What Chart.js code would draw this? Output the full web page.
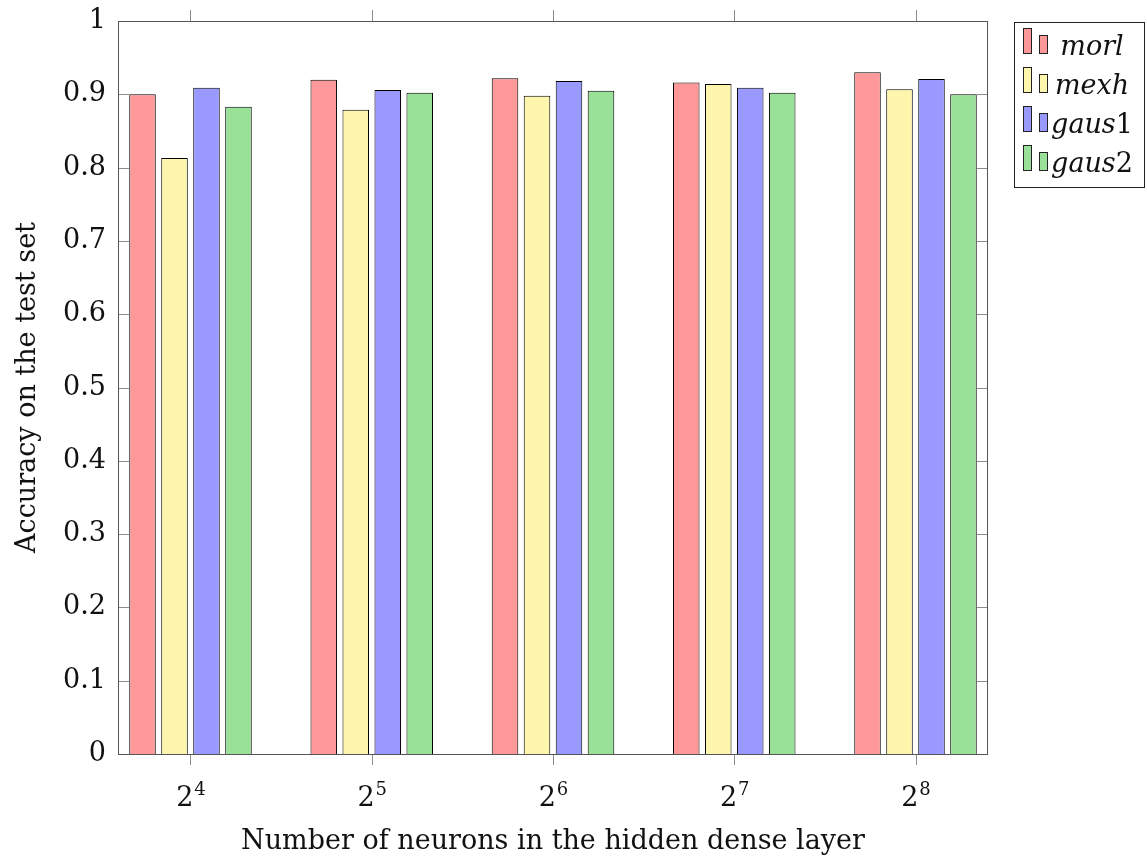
<!DOCTYPE html>
<html>
<head>
<meta charset="utf-8">
<script src="https://cdn.jsdelivr.net/npm/chart.js@4.4.0/dist/chart.umd.min.js"></script>
<style>
  html, body { margin: 0; padding: 0; background: #fff; }
</style>
</head>
<body>
<canvas id="c" width="1147" height="863"></canvas>
<script>
// Hidden-layer sizes are powers of two; the x axis carries the exponent.
const exponents = [4, 5, 6, 7, 8];

// Test-set accuracy per wavelet
const morl  = [0.900, 0.920, 0.922, 0.916, 0.930];
const mexh  = [0.813, 0.879, 0.898, 0.914, 0.907];
const gaus1 = [0.909, 0.906, 0.918, 0.909, 0.921];
const gaus2 = [0.883, 0.902, 0.905, 0.902, 0.900];

const yTicks = [0, 0.1, 0.2, 0.3, 0.4, 0.5, 0.6, 0.7, 0.8, 0.9, 1];

// Legend names: italic part + upright suffix
const seriesNames = [['morl', ''], ['mexh', ''], ['gaus', '1'], ['gaus', '2']];
const seriesFill = ['#ff9999', '#fff6ad', '#9999ff', '#99e099'];
const seriesValues = [morl, mexh, gaus1, gaus2];

const FONT = '"DejaVu Serif", "Liberation Serif", serif';
const FS = 27;

const datasets = seriesValues.map((vals, k) => ({
  label: seriesNames[k].join(''),
  data: exponents.map((e, i) => ({ x: e, y: vals[i] })),
  backgroundColor: seriesFill[k],
  borderColor: '#000',
  borderWidth: 1,
  borderSkipped: 'start',
  categoryPercentage: 0.706,
  barPercentage: 0.83
}));

// Axis frame with tick marks: y ticks point inward on both sides,
// x ticks point outward at top and bottom. Also the x tick labels as 2^k.
const framePlugin = {
  id: 'frame',
  afterDatasetsDraw(chart) {
    const { ctx, chartArea: a, scales: { x, y } } = chart;
    ctx.save();
    ctx.lineWidth = 1;
    ctx.strokeStyle = '#8c8c8c';
    ctx.beginPath();
    yTicks.forEach(v => {
      const py = Math.round(y.getPixelForValue(v)) + 0.5;
      ctx.moveTo(a.left, py); ctx.lineTo(a.left + 11, py);
      ctx.moveTo(a.right, py); ctx.lineTo(a.right - 11, py);
    });
    exponents.forEach(e => {
      const px = Math.round(x.getPixelForValue(e)) + 0.5;
      ctx.moveTo(px, a.top); ctx.lineTo(px, a.top - 11);
      ctx.moveTo(px, a.bottom); ctx.lineTo(px, a.bottom + 11);
    });
    ctx.stroke();

    ctx.strokeStyle = '#555';
    ctx.strokeRect(Math.round(a.left) + 0.5, Math.round(a.top) + 0.5,
                   Math.round(a.right - a.left) - 1, Math.round(a.bottom - a.top));

    // x tick labels: base 2 with raised exponent
    ctx.fillStyle = '#111';
    ctx.textBaseline = 'alphabetic';
    exponents.forEach(e => {
      const px = x.getPixelForValue(e);
      ctx.font = `${FS}px ${FONT}`;
      const wb = ctx.measureText('2').width;
      ctx.font = `18px ${FONT}`;
      const we = ctx.measureText(String(e)).width;
      const start = px - (wb + we) / 2;
      ctx.font = `${FS}px ${FONT}`;
      ctx.textAlign = 'left';
      ctx.fillText('2', start, a.bottom + 52);
      ctx.font = `18px ${FONT}`;
      ctx.fillText(String(e), start + wb + 1, a.bottom + 41);
    });
    ctx.restore();
  }
};

// Boxed legend to the right of the plot, two small bars per entry
const legendPlugin = {
  id: 'barLegend',
  afterDraw(chart) {
    const { ctx, chartArea: a } = chart;
    const bx = a.right + 26, by = a.top + 1, bw = 130, bh = 165;
    ctx.save();
    ctx.fillStyle = '#fff';
    ctx.fillRect(bx, by, bw, bh);
    ctx.strokeStyle = '#222';
    ctx.lineWidth = 1;
    ctx.strokeRect(bx + 0.5, by + 0.5, bw, bh);
    seriesNames.forEach((nm, k) => {
      const base = by + 31 + k * 39;
      ctx.fillStyle = seriesFill[k];
      ctx.strokeStyle = '#222';
      ctx.fillRect(bx + 9, base - 25, 8, 25);
      ctx.strokeRect(bx + 9.5, base - 24.5, 8, 25);
      ctx.fillRect(bx + 25, base - 18, 8, 18);
      ctx.strokeRect(bx + 25.5, base - 17.5, 8, 18);
      ctx.fillStyle = '#111';
      ctx.textBaseline = 'alphabetic';
      ctx.textAlign = 'left';
      ctx.font = `italic ${FS}px ${FONT}`;
      const w1 = ctx.measureText(nm[0]).width;
      ctx.font = `${FS}px ${FONT}`;
      const w2 = ctx.measureText(nm[1]).width;
      const cx = bx + 78;
      const sx = cx - (w1 + w2) / 2;
      ctx.font = `italic ${FS}px ${FONT}`;
      ctx.fillText(nm[0], sx, base + 2);
      ctx.font = `${FS}px ${FONT}`;
      ctx.fillText(nm[1], sx + w1, base + 2);
    });
    ctx.restore();
  }
};

new Chart(document.getElementById('c'), {
  type: 'bar',
  data: { datasets },
  options: {
    responsive: false,
    animation: false,
    layout: { padding: { left: 0, top: 21, right: 159, bottom: 0 } },
    plugins: { legend: { display: false }, tooltip: { enabled: false } },
    scales: {
      x: {
        type: 'linear',
        offset: false,
        min: 3.6,
        max: 8.4,
        grid: { display: false, drawTicks: false },
        border: { display: false },
        afterBuildTicks: s => { s.ticks = exponents.map(v => ({ value: v })); },
        afterFit: s => { s.height = 109; s.paddingLeft = 0; s.paddingRight = 0; },
        ticks: { display: false },
        title: {
          display: true,
          text: 'Number of neurons in the hidden dense layer',
          color: '#111',
          font: { family: FONT, size: FS },
          padding: { top: 0, bottom: 5 }
        }
      },
      y: {
        min: 0,
        max: 1,
        grid: { display: false, drawTicks: false },
        border: { display: false },
        afterBuildTicks: s => { s.ticks = yTicks.map(v => ({ value: v })); },
        afterFit: s => { s.width = 118; s.paddingTop = 0; s.paddingBottom = 0; },
        ticks: {
          color: '#111',
          padding: 12,
          font: { family: FONT, size: FS },
          callback: v => String(+v.toFixed(1))
        },
        title: {
          display: true,
          text: 'Accuracy on the test set',
          color: '#111',
          font: { family: FONT, size: FS },
          padding: { top: 12, bottom: 0 }
        }
      }
    }
  },
  plugins: [framePlugin, legendPlugin]
});
</script>
</body>
</html>
